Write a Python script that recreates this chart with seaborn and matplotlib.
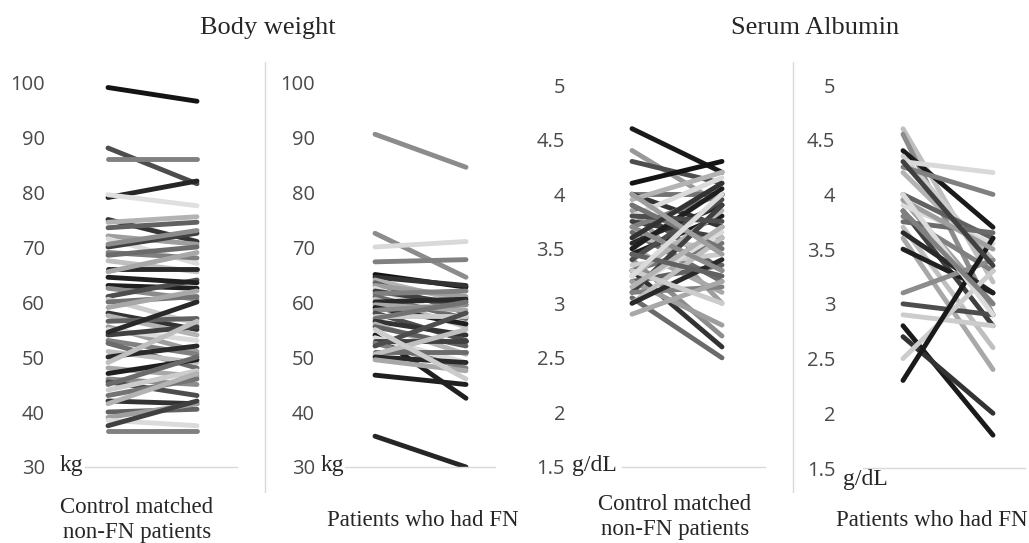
import numpy as np
import pandas as pd
import matplotlib
matplotlib.use("Agg")
import matplotlib.pyplot as plt
import seaborn as sns
from matplotlib.lines import Line2D

# ---- data: value at first and second time point, one pair per patient ----
# Body weight (kg), control matched non-FN patients
bw_ctrl_pre = [99, 88, 86, 79, 79.5, 75, 74.5, 73.5, 72, 71.5, 70, 69, 68.5, 67.5, 66,
               65.5, 63, 62.5, 61, 60.5, 60, 58, 57.5, 56.5, 55.5, 55, 54, 53, 52.5, 51,
               50, 48, 47, 46, 45.5, 44, 43, 42, 41.5, 40, 39, 38.5, 37.5, 36.5, 45, 49,
               54.5, 59, 64.5, 70.5]
bw_ctrl_post = [96.5, 81.5, 86, 82, 77.5, 71, 75.5, 74.5, 70.5, 67, 72.5, 68, 70, 65.5, 66,
                69, 62.5, 60.5, 64, 56, 61, 55, 54, 57, 51, 53, 55.5, 50.5, 48, 49,
                52, 46.5, 49.5, 45, 43, 47.5, 46, 41.5, 47, 40.5, 41.5, 37.5, 42, 36.5, 50, 56.5,
                60, 62, 63.5, 73]

# Body weight (kg), patients who had FN
bw_fn_pre = [90.5, 72.5, 70, 67.3, 65, 64.5, 64, 63.5, 63, 62.5, 62, 61.5, 61, 60.5, 60,
             59.5, 59, 58.5, 58, 57.5, 57, 56.5, 56, 55.5, 54, 53.5, 53, 52.5, 51, 50.5,
             50, 49.5, 46.7, 35.6, 52, 55]
bw_fn_post = [84.5, 64.5, 71, 67.7, 62.7, 63, 60, 58, 61, 56.5, 59.5, 62, 57, 55.5, 60.5,
              58.5, 56, 59.5, 53, 57.5, 60, 54, 50.5, 52, 42.5, 49, 53, 48, 51, 55,
              49, 47.5, 45, 30, 58, 46]

# Serum albumin (g/dL), control matched non-FN patients
alb_ctrl_pre = [4.6, 4.4, 4.3, 4.1, 4.0, 4.0, 3.95, 3.9, 3.85, 3.8, 3.75, 3.7, 3.65, 3.6,
                3.55, 3.5, 3.45, 3.4, 3.4, 3.35, 3.3, 3.3, 3.25, 3.2, 3.2, 3.15, 3.1, 3.1,
                3.05, 3.0, 3.0, 2.9, 3.5, 3.7, 3.8, 3.3, 3.9, 3.6, 3.15, 3.45, 4.0, 3.25]
alb_ctrl_post = [4.2, 3.9, 4.1, 4.3, 4.0, 3.7, 4.2, 3.3, 3.0, 4.15, 3.6, 4.0, 3.2, 3.5,
                 3.9, 3.1, 3.8, 2.7, 3.95, 3.45, 3.55, 2.6, 3.85, 3.35, 2.8, 3.65, 3.9, 3.15,
                 2.5, 3.6, 3.4, 3.2, 4.05, 3.3, 3.75, 3.0, 3.5, 4.1, 3.7, 3.25, 3.45, 4.0]

# Serum albumin (g/dL), patients who had FN
alb_fn_pre = [4.6, 4.55, 4.4, 4.35, 4.3, 4.25, 4.2, 4.0, 3.95, 3.9, 3.85, 3.8, 3.75, 3.7,
              3.65, 3.6, 3.5, 3.1, 3.0, 2.9, 2.8, 2.7, 2.5, 2.3, 3.95, 4.0, 4.3, 3.85]
alb_fn_post = [3.2, 2.9, 3.7, 3.4, 4.2, 4.0, 3.4, 3.6, 3.0, 3.55, 2.8, 3.3, 3.65, 2.6,
               3.1, 2.4, 3.1, 3.4, 2.9, 2.8, 1.8, 2.0, 3.3, 3.6, 3.5, 2.9, 3.35, 3.0]

bw_ticks = [30, 40, 50, 60, 70, 80, 90, 100]
alb_ticks = [1.5, 2, 2.5, 3, 3.5, 4, 4.5, 5]
group_labels = ["Control matched\nnon-FN patients", "Patients who had FN"]
titles = ["Body weight", "Serum Albumin"]
units = ["kg", "g/dL"]

# grey shades for the lines (0 = black, 1 = white)
shade_cycle = [0.12, 0.55, 0.30, 0.80, 0.45, 0.20, 0.70, 0.38, 0.62, 0.86,
               0.25, 0.50, 0.42, 0.75, 0.16, 0.66]


def shades(n, fixed):
    s = list(np.resize(shade_cycle, n))
    for i, v in fixed.items():
        s[i] = v
    return [str(v) for v in s]


W, H = 1029, 543
fig = plt.figure(figsize=(W / 100, H / 100), dpi=100)
sns.set_style("white")

SERIF = "Liberation Serif"
TICK_FONT = "Open Sans"


def draw_panel(box, lines, pre, post, ticks, cols, pad, unit_xy):
    left, right, top, bottom = box
    ax = fig.add_axes([left / W, 1 - bottom / H, (right - left) / W, (bottom - top) / H])
    n = len(pre)
    ids = ["p%02d" % i for i in range(n)]
    df = pd.DataFrame({"id": ids * 2, "t": [0] * n + [1] * n, "v": list(pre) + list(post)})
    sns.lineplot(data=df, x="t", y="v", hue="id", palette=cols, estimator=None,
                 legend=False, linewidth=3.5, solid_capstyle="round", ax=ax)
    x0, x1 = lines
    k = x1 - x0
    ax.set_xlim(-(x0 - left) / k, 1 + (right - x1) / k)
    ax.set_ylim(ticks[0], ticks[-1])
    ax.set_yticks(ticks)
    ax.set_yticklabels(["%g" % t for t in ticks], fontfamily=TICK_FONT)
    ax.set_xticks([])
    ax.set_xlabel("")
    ax.set_ylabel("")
    ax.tick_params(axis="y", length=0, pad=pad, labelsize=14.5, labelcolor="#4a4a4a")
    for s in ["left", "right", "top"]:
        ax.spines[s].set_visible(False)
    ax.spines["bottom"].set_color("#d9d9d9")
    ax.spines["bottom"].set_linewidth(1.0)
    ax.set_facecolor("none")
    fig.text(unit_xy[0] / W, 1 - unit_xy[1] / H, unit_xy[2], family=SERIF,
             fontsize=17, ha="left", va="center")
    return ax


draw_panel((85, 237, 82, 467), (108, 197), bw_ctrl_pre, bw_ctrl_post, bw_ticks,
           shades(len(bw_ctrl_pre), {0: 0.08, 1: 0.3, 2: 0.5, 3: 0.15, 4: 0.88}),
           28.8, (60, 466, units[0]))
draw_panel((345, 495, 82, 467), (375, 466), bw_fn_pre, bw_fn_post, bw_ticks,
           shades(len(bw_fn_pre), {0: 0.55, 1: 0.55, 2: 0.85, 3: 0.5, 4: 0.08, 24: 0.12, 33: 0.15}),
           21.6, (321, 466, units[0]))
draw_panel((622, 765, 85, 467), (632, 722), alb_ctrl_pre, alb_ctrl_post, alb_ticks,
           shades(len(alb_ctrl_pre), {0: 0.1, 1: 0.6, 2: 0.3, 3: 0.08}),
           41, (572, 466, units[1]))
draw_panel((863, 1025, 85, 468), (903, 993), alb_fn_pre, alb_fn_post, alb_ticks,
           shades(len(alb_fn_pre), {0: 0.75, 4: 0.85, 5: 0.5, 2: 0.1, 20: 0.1, 23: 0.1, 22: 0.8}),
           20, (843, 479, units[1]))

# panel separators
for xs in [265, 793]:
    fig.add_artist(Line2D([xs / W, xs / W], [1 - 62 / H, 1 - 492 / H],
                          color="#d9d9d9", linewidth=1.0))

fig.text(268 / W, 1 - 28 / H, titles[0], family=SERIF, fontsize=19, ha="center", va="center")
fig.text(815 / W, 1 - 28 / H, titles[1], family=SERIF, fontsize=19, ha="center", va="center")

for x, y, lab in [(137, 520, group_labels[0]), (423, 521, group_labels[1]),
                  (675, 517, group_labels[0]), (932, 521, group_labels[1])]:
    fig.text(x / W, 1 - y / H, lab, family=SERIF, fontsize=16.5, ha="center", va="center",
             linespacing=1.2)

fig.savefig("out.png", dpi=100, facecolor="white")
